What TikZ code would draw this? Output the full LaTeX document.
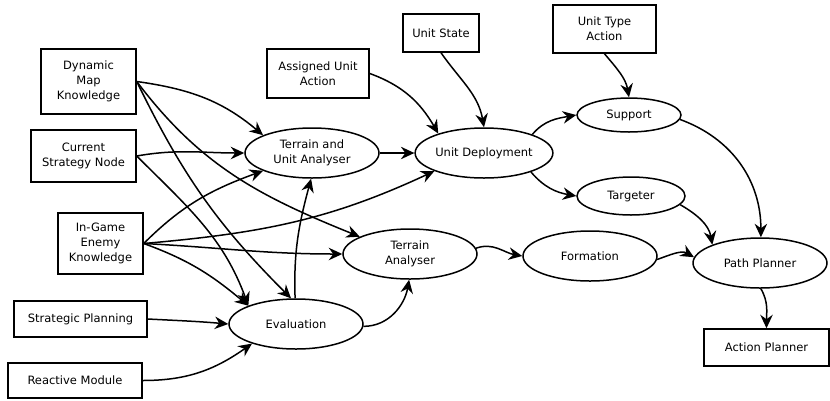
\documentclass[tikz,border=0pt]{standalone}
\usepackage{fontspec}
\setmainfont{DejaVu Sans}
\usetikzlibrary{shapes.geometric,arrows.meta}
\newcommand\diagfont{\fontsize{11.5}{15}\selectfont}
\tikzset{
  box/.style={draw, line width=1.5pt, rectangle, inner sep=0pt, align=center, font=\diagfont},
  ell/.style={draw, line width=1.5pt, ellipse, inner sep=0pt, align=center, font=\diagfont},
  arr/.style={line width=1.5pt, -{Stealth[length=13.5pt,width=12.5pt,inset=4.5pt]}},
}
\begin{document}
\begin{tikzpicture}[x=1pt,y=-1pt]
\useasboundingbox (0,0) rectangle (830,400);
% boxes
\node[box, minimum width=95pt, minimum height=65pt] (dmk) at (88.5,81.5) {Dynamic\\Map\\Knowledge};
\node[box, minimum width=105pt, minimum height=52pt] (csn) at (83.5,156) {Current\\Strategy Node};
\node[box, minimum width=85pt, minimum height=61pt] (igek) at (100.5,243.5) {In-Game\\Enemy\\Knowledge};
\node[box, minimum width=133pt, minimum height=36pt] (sp) at (80.5,319) {Strategic Planning};
\node[box, minimum width=134pt, minimum height=35pt] (rm) at (75,380.5) {Reactive Module};
\node[box, minimum width=102pt, minimum height=49pt] (aua) at (318,73.5) {Assigned Unit\\Action};
\node[box, minimum width=76pt, minimum height=38pt] (us) at (441,33) {Unit State};
\node[box, minimum width=103pt, minimum height=48pt] (uta) at (604.5,29) {Unit Type\\Action};
\node[box, minimum width=125pt, minimum height=37pt] (ap) at (766.5,347.5) {Action Planner};
% ellipses
\node[ell, minimum width=134pt, minimum height=50pt] (tua) at (312,153) {Terrain and\\Unit Analyser};
\node[ell, minimum width=132pt, minimum height=50pt] (ud) at (484,153) {Unit Deployment};
\node[ell, minimum width=134pt, minimum height=50pt] (ta) at (410,254) {Terrain\\Analyser};
\node[ell, minimum width=134pt, minimum height=50pt] (ev) at (296,324) {Evaluation};
\node[ell, minimum width=104pt, minimum height=34pt] (sup) at (629,115) {Support};
\node[ell, minimum width=108pt, minimum height=38pt] (tg) at (631,196) {Targeter};
\node[ell, minimum width=134pt, minimum height=50pt] (fm) at (590,256) {Formation};
\node[ell, minimum width=134pt, minimum height=50pt] (pp) at (760,263) {Path Planner};
% connectors
\draw[arr] (dmk.east) to[out=-8,in=140] (tua.160);
\draw[arr] (dmk.east) to[out=-64,in=135] (ev.101);
\draw[arr] (dmk.east) to[out=-53,in=158] (ta.161);
\draw[arr] (csn.east) to[out=10,in=180] (tua.180);
\draw[arr] (csn.east) to[out=-45,in=110] (ev.159);
\draw[arr] (igek.east) to[out=45,in=200] (tua.200);
\draw[arr] (igek.east) to[out=5,in=205] (ud.200);
\draw[arr] (igek.east) to[out=-3,in=180] (ta.180);
\draw[arr] (igek.east) to[out=-20,in=140] (ev.159);
\draw[arr] (sp.east) to[out=-3,in=175] (ev.180);
\draw[arr] (rm.east) to[out=0,in=215] (ev.204);
\draw[arr] (ev.92) to[out=92,in=-105] (tua.268);
\draw[arr] (ev.358) to[out=0,in=-100] (ta.268);
\draw[arr] (tua.0) -- (ud.180);
\draw[arr] (aua.east) to[out=-20,in=120] (ud.157);
\draw[arr] (us.south) to[out=-55,in=100] (ud.90);
\draw[arr] (ud.21) to[out=50,in=190] (sup.180);
\draw[arr] (ud.338) to[out=-50,in=170] (tg.180);
\draw[arr] (uta.south) to[out=-50,in=100] (sup.90);
\draw[arr] (sup.355) to[out=-20,in=90] (pp.88);
\draw[arr] (tg.350) to[out=-30,in=100] (pp.159);
\draw[arr] (ta.5) to[out=20,in=170] (fm.180);
\draw[arr] (fm.357) to[out=20,in=150] (pp.175);
\draw[arr] (pp.272) to[out=-60,in=90] (ap.north);
\end{tikzpicture}
\end{document}
